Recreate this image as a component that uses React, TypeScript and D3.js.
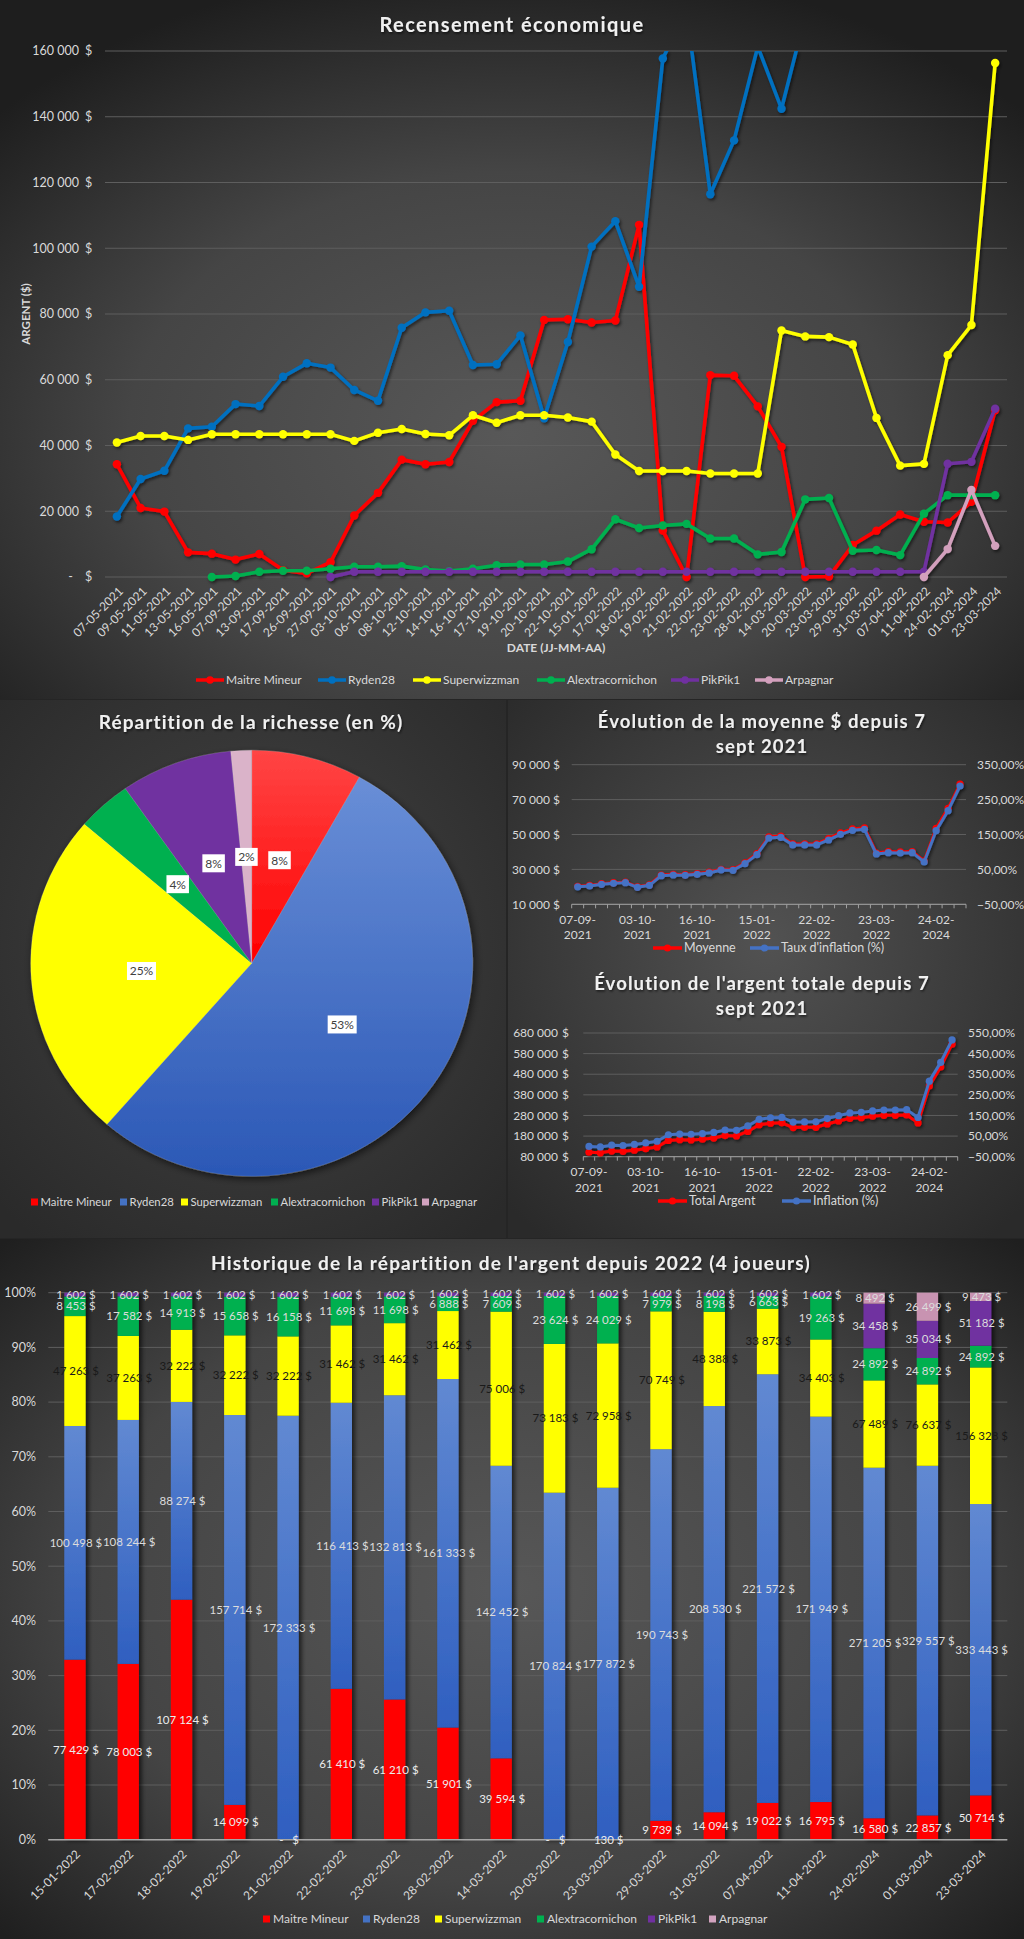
import React from 'react';
import * as d3 from 'd3';

// ---------- DATA ----------
const dates = [
  '07-05-2021', '09-05-2021', '11-05-2021', '13-05-2021', '16-05-2021', '07-09-2021', '13-09-2021', '17-09-2021', '26-09-2021', '27-09-2021',
  '03-10-2021', '06-10-2021', '08-10-2021', '12-10-2021', '14-10-2021', '16-10-2021', '17-10-2021', '19-10-2021', '20-10-2021', '22-10-2021',
  '15-01-2022', '17-02-2022', '18-02-2022', '19-02-2022', '21-02-2022', '22-02-2022', '23-02-2022', '28-02-2022', '14-03-2022', '20-03-2022',
  '23-03-2022', '29-03-2022', '31-03-2022', '07-04-2022', '11-04-2022', '24-02-2024', '01-03-2024', '23-03-2024',
];
const playerNames = ['Maitre Mineur', 'Ryden28', 'Superwizzman', 'Alextracornichon', 'PikPik1', 'Arpagnar'];

const maitreMineur = [34300, 21000, 19900, 7500, 7100, 5300, 7000, 2100, 1100, 4500, 18700, 25600, 35700, 34300, 35000, 47500, 53200, 53600, 78200, 78400,
  77429, 78003, 107124, 14099, 0, 61410, 61210, 51901, 39594, 0, 130, 9739, 14094, 19022, 16795, 16580, 22857, 50714];
const ryden28 = [18400, 29800, 32300, 45200, 45700, 52600, 52000, 60900, 65000, 63700, 56900, 53600, 75800, 80500, 81000, 64500, 64700, 73500, 48300, 71500,
  100498, 108244, 88274, 157714, 172333, 116413, 132813, 161333, 142452, 170824, 177872, 190743, 208530, 221572, 171949, 271205, 329557, 333443];
const superwizzman = [40900, 42900, 42900, 41700, 43400, 43400, 43400, 43400, 43400, 43400, 41400, 43900, 45000, 43500, 43100, 49200, 46900, 49200, 49200, 48500,
  47263, 37263, 32222, 32222, 32222, 31462, 31462, 31462, 75006, 73183, 72958, 70749, 48388, 33873, 34403, 67489, 76637, 156328];
const alextracornichon = [null, null, null, null, 0, 300, 1600, 1900, 1900, 2500, 3100, 3100, 3300, 2300, 1800, 2500, 3600, 3800, 3800, 4700,
  8453, 17582, 14913, 15658, 16158, 11698, 11698, 6888, 7609, 23624, 24029, 7979, 8198, 6663, 19263, 24892, 24892, 24892];
const pikpik1 = [null, null, null, null, null, null, null, null, null, 0, 1602, 1602, 1602, 1602, 1602, 1602, 1602, 1602, 1602, 1602,
  1602, 1602, 1602, 1602, 1602, 1602, 1602, 1602, 1602, 1602, 1602, 1602, 1602, 1602, 1602, 34458, 35034, 51182];
const arpagnar = [null, null, null, null, null, null, null, null, null, null, null, null, null, null, null, null, null, null, null, null,
  null, null, null, null, null, null, null, null, null, null, null, null, null, null, 0, 8492, 26499, 9473];

const pieValues = [50714, 333443, 156328, 24892, 51182, 9473];

const evoDates = dates.slice(5);
const moyenne = [20300, 20800, 21800, 22400, 22700, 20000, 21200, 26800, 27200, 27000, 27600, 28400, 30100, 29900, 33800, 39000, 48700, 49100, 44600, 44600,
  44600, 47600, 50900, 53200, 53800, 39400, 40200, 40000, 40200, 34800, 53500, 65000, 78900];
const tauxInflation = [0, 2.5, 7.3, 10.2, 12.1, -1.3, 4.4, 32.1, 34.0, 33.1, 35.9, 39.8, 48.4, 47.4, 66.5, 92.3, 140.0, 141.9, 120.0, 120.0,
  120.0, 134.3, 150.5, 162.0, 164.8, 94.2, 98.0, 97.0, 98.0, 71.3, 161.0, 218.3, 288.9];
const totalArgent = [101600, 99000, 107500, 106000, 111500, 118500, 127000, 159000, 162500, 161500, 165000, 170500, 182500, 180500, 202500, 235245, 242694, 244135, 221295, 222315,
  222585, 238785, 253186, 266263, 269233, 276591, 280812, 280812, 282732, 244012, 423116, 515476, 626032];
const inflationTotal = [0, -2.6, 5.8, 4.3, 9.7, 16.6, 25.0, 56.5, 59.9, 59.0, 62.4, 67.8, 79.6, 77.7, 99.3, 131.5, 138.9, 140.3, 117.8, 118.8,
  119.1, 135.0, 149.2, 162.1, 165.0, 172.2, 176.4, 176.4, 178.3, 140.2, 316.5, 407.4, 516.2];

const histDates = dates.slice(20);
const histMaitre = [77429, 78003, 107124, 14099, 0, 61410, 61210, 51901, 39594, 0, 130, 9739, 14094, 19022, 16795, 16580, 22857, 50714];
const histRyden = [100498, 108244, 88274, 157714, 172333, 116413, 132813, 161333, 142452, 170824, 177872, 190743, 208530, 221572, 171949, 271205, 329557, 333443];
const histSuper = [47263, 37263, 32222, 32222, 32222, 31462, 31462, 31462, 75006, 73183, 72958, 70749, 48388, 33873, 34403, 67489, 76637, 156328];
const histAlex = [8453, 17582, 14913, 15658, 16158, 11698, 11698, 6888, 7609, 23624, 24029, 7979, 8198, 6663, 19263, 24892, 24892, 24892];
const histPik = [1602, 1602, 1602, 1602, 1602, 1602, 1602, 1602, 1602, 1602, 1602, 1602, 1602, 1602, 1602, 34458, 35034, 51182];
const histArp = [null, null, null, null, null, null, null, null, null, null, null, null, null, null, null, 8492, 26499, 9473];

// ---------- STYLE ----------
const FONT = "Lato, 'Liberation Sans', sans-serif";
const TXT = '#d9d9d9';
const GRID = '#5e5e5e';
const lineColors = ['#ff0000', '#0070c0', '#ffff00', '#00b050', '#7030a0', '#d3a0bd'];
const barColors = ['#ff0000', 'url(#barBlue)', '#ffff00', '#00b050', '#7030a0', '#c893b1'];
const legendSwatch = ['#ff0000', '#4472c4', '#ffff00', '#00b050', '#7030a0', '#d2a3bf'];

const money = (v: number) => d3.format(',')(Math.round(v)).replace(/,/g, '\u00a0');

// ---------- TOP LINE CHART ----------
function TopChart() {
  const x = d3.scalePoint<string>().domain(dates).range([105, 1007]).padding(0.5);
  const y = d3.scaleLinear().domain([0, 160000]).range([577, 51]);
  const ticks = d3.range(0, 160001, 20000);
  const series = [maitreMineur, ryden28, superwizzman, alextracornichon, pikpik1, arpagnar];
  const line = d3.line<number | null>()
    .defined((d) => d != null)
    .x((_, i) => x(dates[i])!)
    .y((d) => y(d as number));
  const legX = [196, 318, 413, 537, 671, 755];
  return (
    <g fontFamily={FONT}>
      <text x={512} y={32} textAnchor="middle" fill="#f0f0f0" fontSize={20} fontWeight={700} letterSpacing={1.4} filter="url(#tshadow)">Recensement économique</text>
      {ticks.map((t) => (
        <g key={t}>
          <line x1={105} x2={1007} y1={y(t)} y2={y(t)} stroke={GRID} strokeWidth={1} />
          <text x={t === 0 ? 73 : 79} y={y(t)} dy="0.35em" textAnchor="end" fill={TXT} fontSize={12.5}>{t === 0 ? '-' : money(t)}</text>
          <text x={85} y={y(t)} dy="0.35em" fill={TXT} fontSize={12.5}>$</text>
        </g>
      ))}
      <text transform="translate(30,314) rotate(-90)" textAnchor="middle" fill={TXT} fontSize={11.5} fontWeight={700}>ARGENT ($)</text>
      {dates.map((d) => (
        <text key={d} transform={`translate(${x(d)! + 4},${589}) rotate(-45)`} textAnchor="end" dy="0.35em" fill={TXT} fontSize={12}>{d}</text>
      ))}
      <text x={556} y={652} textAnchor="middle" fill={TXT} fontSize={12} fontWeight={700}>DATE (JJ-MM-AA)</text>
      <g filter="url(#lshadow)">
        <g clipPath="url(#topClip)">
          {series.map((s, k) => (
            <g key={k}>
              <path d={line(s) || ''} fill="none" stroke={lineColors[k]} strokeWidth={3.6} strokeLinejoin="round" />
              {s.map((v, i) => (v == null ? null : (
                <circle key={i} cx={x(dates[i])} cy={y(v)} r={4.2} fill={lineColors[k]} />
              )))}
            </g>
          ))}
        </g>
      </g>
      {playerNames.map((n, k) => (
        <g key={n}>
          <line x1={legX[k]} x2={legX[k] + 28} y1={680} y2={680} stroke={lineColors[k]} strokeWidth={3.5} />
          <circle cx={legX[k] + 14} cy={680} r={3.8} fill={lineColors[k]} />
          <text x={legX[k] + 30} y={680} dy="0.35em" fill={TXT} fontSize={12}>{n}</text>
        </g>
      ))}
    </g>
  );
}

// ---------- PIE ----------
function PieChart() {
  const cx = 251.7, cy = 963.3, r = 221, sy = 0.964;
  const pie = d3.pie<number>().sort(null).value((d) => d);
  const arcs = pie(pieValues);
  const arc = d3.arc<d3.PieArcDatum<number>>().innerRadius(0).outerRadius(r);
  const total = d3.sum(pieValues);
  const fills = ['url(#pieRed)', 'url(#pieBlue)', '#ffff00', '#00b050', '#7030a0', '#dab3c9'];
  const legSq = [31, 120, 181, 271, 372, 422];
  return (
    <g fontFamily={FONT}>
      <text x={251} y={729} textAnchor="middle" fill="#f0f0f0" fontSize={19} fontWeight={700} letterSpacing={1.1} filter="url(#tshadow)">Répartition de la richesse (en %)</text>
      <g transform={`translate(${cx},${cy}) scale(1,${sy})`} filter="url(#pshadow)">
        {arcs.map((a, i) => (
          <path key={i} d={arc(a) || ''} fill={fills[i]} stroke="#ffffff" strokeOpacity={0.25} strokeWidth={0.6} />
        ))}
      </g>
      {arcs.map((a, i) => {
        const [px, py] = arc.centroid(a);
        const label = `${Math.round((a.value / total) * 100)}%`;
        const w = 6.5 * label.length + 9.5;
        const lx = cx + px, ly = cy + py * sy;
        return (
          <g key={i}>
            <rect x={lx - w / 2} y={ly - 9} width={w} height={18} fill="#ffffff" />
            <text x={lx} y={ly} dy="0.36em" textAnchor="middle" fill="#404040" fontSize={12}>{label}</text>
          </g>
        );
      })}
      {playerNames.map((n, k) => (
        <g key={n}>
          <rect x={legSq[k]} y={1198.5} width={7} height={7} fill={legendSwatch[k]} />
          <text x={legSq[k] + 9.5} y={1202} dy="0.35em" fill={TXT} fontSize={11.3}>{n}</text>
        </g>
      ))}
    </g>
  );
}

// ---------- EVOLUTION CHARTS ----------
type EvoProps = {
  title1: string; title2: string; tY1: number; tY2: number;
  x0: number; x1: number; yTop: number; yBottom: number;
  leftDomain: [number, number]; leftStep: number; rightDomain: [number, number]; rightStep: number;
  leftX: number; dollarSplit: boolean; rightX: number;
  red: number[]; blue: number[]; labY1: number; labY2: number;
  legY: number; legRed: number; legBlue: number; nameRed: string; nameBlue: string;
};
function EvoChart(p: EvoProps) {
  const x = d3.scalePoint<string>().domain(evoDates).range([p.x0, p.x1]).padding(0.5);
  const yL = d3.scaleLinear().domain(p.leftDomain).range([p.yBottom, p.yTop]);
  const yR = d3.scaleLinear().domain(p.rightDomain).range([p.yBottom, p.yTop]);
  const step = (p.x1 - p.x0) / evoDates.length;
  const leftTicks = d3.range(p.leftDomain[0], p.leftDomain[1] + 1, p.leftStep);
  const rightTicks = d3.range(p.rightDomain[0], p.rightDomain[1] + 0.01, p.rightStep);
  const lineL = d3.line<number>().x((_, i) => x(evoDates[i])!).y((d) => yL(d));
  const lineR = d3.line<number>().x((_, i) => x(evoDates[i])!).y((d) => yR(d));
  const blueC = '#4472c4';
  return (
    <g fontFamily={FONT}>
      <text x={762} y={p.tY1} textAnchor="middle" fill="#f0f0f0" fontSize={18.5} fontWeight={700} letterSpacing={1.1} filter="url(#tshadow)">{p.title1}</text>
      <text x={762} y={p.tY2} textAnchor="middle" fill="#f0f0f0" fontSize={18.5} fontWeight={700} letterSpacing={1.1} filter="url(#tshadow)">{p.title2}</text>
      {leftTicks.map((t) => (
        <g key={t}>
          <line x1={p.x0} x2={p.x1} y1={yL(t)} y2={yL(t)} stroke={GRID} strokeWidth={1} />
          {p.dollarSplit ? (
            <>
              <text x={p.leftX - 11} y={yL(t)} dy="0.35em" textAnchor="end" fill={TXT} fontSize={12}>{money(t)}</text>
              <text x={p.leftX} y={yL(t)} dy="0.35em" textAnchor="end" fill={TXT} fontSize={12}>$</text>
            </>
          ) : (
            <text x={p.leftX} y={yL(t)} dy="0.35em" textAnchor="end" fill={TXT} fontSize={12}>{`${money(t)}\u00a0$`}</text>
          )}
        </g>
      ))}
      {rightTicks.map((t) => (
        <text key={t} x={p.rightX} y={yR(t)} dy="0.35em" fill={TXT} fontSize={12}>{`${d3.format('.2f')(t).replace('.', ',')}%`}</text>
      ))}
      <line x1={p.x0} x2={p.x1} y1={p.yBottom} y2={p.yBottom} stroke="#a0a0a0" strokeWidth={1} />
      {d3.range(evoDates.length + 1).map((i) => (
        <line key={i} x1={p.x0 + i * step} x2={p.x0 + i * step} y1={p.yBottom} y2={p.yBottom + 4} stroke="#a0a0a0" strokeWidth={1} />
      ))}
      {evoDates.map((d, i) => (i % 5 !== 0 ? null : (
        <g key={d}>
          <text x={x(d)} y={p.labY1} dy="0.35em" textAnchor="middle" fill={TXT} fontSize={12}>{d.slice(0, 6)}</text>
          <text x={x(d)} y={p.labY2} dy="0.35em" textAnchor="middle" fill={TXT} fontSize={12}>{d.slice(6)}</text>
        </g>
      )))}
      <g filter="url(#lshadow)">
        <path d={lineL(p.red) || ''} fill="none" stroke="#ff0000" strokeWidth={3} strokeLinejoin="round" />
        {p.red.map((v, i) => <circle key={i} cx={x(evoDates[i])} cy={yL(v)} r={3.6} fill="#ff0000" />)}
        <path d={lineR(p.blue) || ''} fill="none" stroke={blueC} strokeWidth={3} strokeLinejoin="round" />
        {p.blue.map((v, i) => <circle key={i} cx={x(evoDates[i])} cy={yR(v)} r={3.6} fill={blueC} />)}
      </g>
      <line x1={p.legRed} x2={p.legRed + 29} y1={p.legY} y2={p.legY} stroke="#ff0000" strokeWidth={3.5} />
      <circle cx={p.legRed + 14.5} cy={p.legY} r={3.6} fill="#ff0000" />
      <text x={p.legRed + 31} y={p.legY} dy="0.35em" fill={TXT} fontSize={12.5}>{p.nameRed}</text>
      <line x1={p.legBlue} x2={p.legBlue + 29} y1={p.legY} y2={p.legY} stroke={blueC} strokeWidth={3.5} />
      <circle cx={p.legBlue + 14.5} cy={p.legY} r={3.6} fill={blueC} />
      <text x={p.legBlue + 31} y={p.legY} dy="0.35em" fill={TXT} fontSize={12.5}>{p.nameBlue}</text>
    </g>
  );
}

// ---------- STACKED 100% BARS ----------
function StackedChart() {
  const raw = [histMaitre, histRyden, histSuper, histAlex, histPik, histArp];
  const rows = histDates.map((d, i) => ({ date: d, v: raw.map((s) => (s[i] == null ? 0 : (s[i] as number))) }));
  const keys = ['0', '1', '2', '3', '4', '5'];
  const stack = d3.stack<any, string>().keys(keys).value((row, key) => row.v[+key]).offset(d3.stackOffsetExpand);
  const stacked = stack(rows);
  const x = d3.scaleBand<string>().domain(histDates).range([48.3, 1007.3]).paddingInner(0.6).paddingOuter(0.3);
  const y = d3.scaleLinear().domain([0, 1]).range([1839.7, 1292.7]);
  const labelColors = ['#ececec', '#dcdcdc', '#1a1a1a', '#dcdcdc', '#dcdcdc', '#dcdcdc'];
  const legSq = [263, 363, 435, 537, 648, 709];
  return (
    <g fontFamily={FONT}>
      <text x={511} y={1270} textAnchor="middle" fill="#f0f0f0" fontSize={19} fontWeight={700} letterSpacing={1.2} filter="url(#tshadow)">Historique de la répartition de l'argent depuis 2022 (4 joueurs)</text>
      {d3.range(0, 1.0001, 0.1).map((t) => (
        <g key={t}>
          <line x1={48.3} x2={1007.3} y1={y(t)} y2={y(t)} stroke={GRID} strokeWidth={1} />
          <text x={36} y={y(t)} dy="0.35em" textAnchor="end" fill={TXT} fontSize={12.5}>{`${Math.round(t * 100)}%`}</text>
        </g>
      ))}
      {histDates.map((d, i) => (
        <g key={d} filter="url(#bshadow)">
          {stacked.map((s, k) => {
            const seg = s[i];
            const h = y(seg[0]) - y(seg[1]);
            return h <= 0 ? null : (
              <rect key={k} x={x(d)} y={y(seg[1])} width={x.bandwidth()} height={h} fill={barColors[k]} />
            );
          })}
        </g>
      ))}
      <line x1={48.3} x2={1007.3} y1={1839.7} y2={1839.7} stroke="#a6a6a6" strokeWidth={1.5} />
      {histDates.map((d, i) => stacked.map((s, k) => {
        const rv = raw[k][i];
        if (rv == null) return null;
        const seg = s[i];
        const cyv = (y(seg[0]) + y(seg[1])) / 2;
        return (
          <text key={`${d}-${k}`} x={x(d)! + x.bandwidth() / 2 + 1} y={cyv} dy="0.35em" textAnchor="middle" fill={labelColors[k]} fontSize={11.5}>
            {rv === 0 ? '-\u00a0\u00a0\u00a0$' : `${money(rv)}\u00a0$`}
          </text>
        );
      }))}
      {histDates.map((d) => (
        <text key={d} transform={`translate(${x(d)! + x.bandwidth() / 2 + 3},${1852}) rotate(-45)`} textAnchor="end" dy="0.35em" fill={TXT} fontSize={12}>{d}</text>
      ))}
      {playerNames.map((n, k) => (
        <g key={n}>
          <rect x={legSq[k]} y={1915.5} width={7} height={7} fill={legendSwatch[k]} />
          <text x={legSq[k] + 10} y={1919} dy="0.35em" fill={TXT} fontSize={12}>{n}</text>
        </g>
      ))}
    </g>
  );
}

export default function App() {
  return (
    <div style={{ position: 'absolute', left: 0, top: 0, width: 1024, height: 1939 }}>
      <svg width={1024} height={1939} style={{ display: 'block' }}>
        <defs>
          <radialGradient id="bgA" cx="50%" cy="62%" r="68%">
            <stop offset="0" stopColor="#585858" />
            <stop offset="0.55" stopColor="#454545" />
            <stop offset="1" stopColor="#1e1e1e" />
          </radialGradient>
          <radialGradient id="bgB" cx="50%" cy="45%" r="70%">
            <stop offset="0" stopColor="#454545" />
            <stop offset="1" stopColor="#2a2a2a" />
          </radialGradient>
          <radialGradient id="bgC" cx="50%" cy="45%" r="70%">
            <stop offset="0" stopColor="#525252" />
            <stop offset="1" stopColor="#2a2a2a" />
          </radialGradient>
          <radialGradient id="bgE" cx="50%" cy="50%" r="70%">
            <stop offset="0" stopColor="#575757" />
            <stop offset="0.6" stopColor="#444444" />
            <stop offset="1" stopColor="#1f1f1f" />
          </radialGradient>
          <linearGradient id="pieBlue" gradientUnits="userSpaceOnUse" x1="0" y1="-221" x2="0" y2="221">
            <stop offset="0" stopColor="#6d92d9" />
            <stop offset="1" stopColor="#2b58b6" />
          </linearGradient>
          <linearGradient id="pieRed" gradientUnits="userSpaceOnUse" x1="0" y1="-221" x2="0" y2="0">
            <stop offset="0" stopColor="#ff4545" />
            <stop offset="1" stopColor="#ff0000" />
          </linearGradient>
          <linearGradient id="barBlue" x1="0" y1="0" x2="0" y2="1">
            <stop offset="0" stopColor="#6189d2" />
            <stop offset="1" stopColor="#2f5fc0" />
          </linearGradient>
          <clipPath id="topClip">
            <rect x={95} y={51} width={922} height={540} />
          </clipPath>
          <filter id="lshadow" x="-5%" y="-5%" width="110%" height="115%">
            <feDropShadow dx="1.5" dy="2" stdDeviation="1.5" floodColor="#000" floodOpacity="0.55" />
          </filter>
          <filter id="bshadow" x="-20%" y="-5%" width="160%" height="110%">
            <feDropShadow dx="3" dy="1" stdDeviation="2" floodColor="#000" floodOpacity="0.6" />
          </filter>
          <filter id="pshadow" x="-10%" y="-10%" width="120%" height="120%">
            <feDropShadow dx="2" dy="3" stdDeviation="4" floodColor="#000" floodOpacity="0.6" />
          </filter>
          <filter id="tshadow" x="-5%" y="-30%" width="110%" height="160%">
            <feDropShadow dx="1" dy="1.5" stdDeviation="1" floodColor="#000" floodOpacity="0.6" />
          </filter>
        </defs>
        <rect x={0} y={0} width={1024} height={1939} fill="#252525" />
        <rect x={0} y={0} width={1024} height={699} fill="url(#bgA)" />
        <rect x={0} y={700} width={506} height={538} fill="url(#bgB)" />
        <rect x={508} y={700} width={516} height={538} fill="url(#bgC)" />
        <rect x={0} y={1239} width={1024} height={700} fill="url(#bgE)" />
        <TopChart />
        <PieChart />
        <EvoChart
          title1="Évolution de la moyenne $ depuis 7" title2="sept 2021" tY1={728} tY2={753}
          x0={571.7} x1={966} yTop={764.7} yBottom={904.3}
          leftDomain={[10000, 90000]} leftStep={20000} rightDomain={[-50, 350]} rightStep={100}
          leftX={560} dollarSplit={false} rightX={977}
          red={moyenne} blue={tauxInflation} labY1={920} labY2={935}
          legY={948} legRed={653} legBlue={750} nameRed="Moyenne" nameBlue="Taux d'inflation (%)"
        />
        <EvoChart
          title1="Évolution de l'argent totale depuis 7" title2="sept 2021" tY1={990} tY2={1015}
          x0={583.3} x1={957.7} yTop={1033} yBottom={1156.7}
          leftDomain={[80000, 680000]} leftStep={100000} rightDomain={[-50, 550]} rightStep={100}
          leftX={569} dollarSplit={true} rightX={968}
          red={totalArgent} blue={inflationTotal} labY1={1172} labY2={1188}
          legY={1201} legRed={658} legBlue={782} nameRed="Total Argent" nameBlue="Inflation (%)"
        />
        <StackedChart />
      </svg>
    </div>
  );
}
